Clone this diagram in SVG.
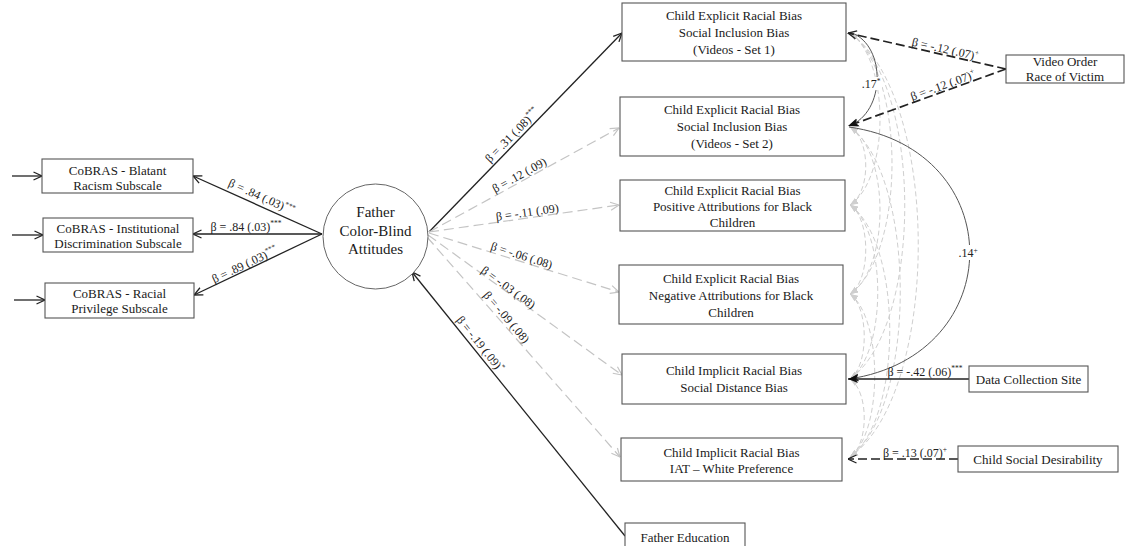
<svg xmlns="http://www.w3.org/2000/svg" width="1143" height="546" viewBox="0 0 1143 546">
<style>
.box{fill:#fff;stroke:#555;stroke-width:1.1}
.t{font-family:"Liberation Serif","Times New Roman",serif;font-size:13px;fill:#1a1a1a;text-anchor:middle}
.tc{font-family:"Liberation Serif","Times New Roman",serif;font-size:15px;fill:#1a1a1a;text-anchor:middle}
.lb{font-family:"Liberation Serif","Times New Roman",serif;font-size:12px;fill:#222;text-anchor:middle}
.sup{font-size:7.5px}
.solid{fill:none;stroke:#222;stroke-width:1.3}
.gdash{fill:none;stroke:#c4c4c4;stroke-width:1.2;stroke-dasharray:10 5}
.bdash{fill:none;stroke:#222;stroke-width:1.7;stroke-dasharray:9 4}
.corr{fill:none;stroke:#555;stroke-width:1}
.gcorr{fill:none;stroke:#cfcfcf;stroke-width:1;stroke-dasharray:5 3}
</style>
<defs>
<marker id="ao" viewBox="0 0 10 10" refX="9.5" refY="5" markerWidth="10" markerHeight="10" markerUnits="userSpaceOnUse" orient="auto-start-reverse">
<path d="M1,1 L9.5,5 L1,9" fill="none" stroke="#222" stroke-width="1.3"/>
</marker>
<marker id="ag" viewBox="0 0 10 10" refX="9.5" refY="5" markerWidth="10" markerHeight="10" markerUnits="userSpaceOnUse" orient="auto-start-reverse">
<path d="M1,1 L9.5,5 L1,9" fill="none" stroke="#c4c4c4" stroke-width="1.2"/>
</marker>
<marker id="af" viewBox="0 0 10 10" refX="10" refY="5" markerWidth="10" markerHeight="10" markerUnits="userSpaceOnUse" orient="auto-start-reverse">
<path d="M0,1 L10,5 L0,9 L2.5,5 Z" fill="#111"/>
</marker>
<marker id="agf" viewBox="0 0 10 10" refX="10" refY="5" markerWidth="8" markerHeight="8" markerUnits="userSpaceOnUse" orient="auto-start-reverse">
<path d="M0,1 L10,5 L0,9 Z" fill="#cfcfcf"/>
</marker>
</defs>

<g id="connectors">
<line class="solid" x1="12" y1="176" x2="42" y2="176" marker-end="url(#ao)"/>
<line class="solid" x1="12" y1="235" x2="43" y2="235" marker-end="url(#ao)"/>
<line class="solid" x1="14" y1="300" x2="45" y2="300" marker-end="url(#ao)"/>
<line class="solid" x1="322" y1="234" x2="193" y2="176" marker-end="url(#ao)"/>
<line class="solid" x1="322" y1="234" x2="193" y2="234" marker-end="url(#ao)"/>
<line class="solid" x1="322" y1="234" x2="194" y2="295" marker-end="url(#ao)"/>
<line class="solid" x1="429" y1="232" x2="622" y2="33" marker-end="url(#ao)"/>
<line class="gdash" x1="429" y1="232" x2="619" y2="128" marker-end="url(#ag)"/>
<line class="gdash" x1="429" y1="232" x2="619" y2="205" marker-end="url(#ag)"/>
<line class="gdash" x1="429" y1="233" x2="619" y2="292" marker-end="url(#ag)"/>
<line class="gdash" x1="428" y1="235" x2="622" y2="375" marker-end="url(#ag)"/>
<line class="gdash" x1="427" y1="237" x2="620" y2="457" marker-end="url(#ag)"/>
<line class="solid" x1="625" y1="536" x2="412" y2="272" marker-end="url(#ao)"/>
<path class="gcorr" d="M850,33 C890,59 890,179 850,205" marker-start="url(#agf)" marker-end="url(#agf)"/>
<path class="gcorr" d="M850,33 C906,72 906,255 850,294" marker-start="url(#agf)" marker-end="url(#agf)"/>
<path class="gcorr" d="M850,33 C923,85 923,327 850,379" marker-start="url(#agf)" marker-end="url(#agf)"/>
<path class="gcorr" d="M850,33 C941,97 941,393 850,457" marker-start="url(#agf)" marker-end="url(#agf)"/>
<path class="gcorr" d="M850,127 C871,139 871,193 850,205" marker-start="url(#agf)" marker-end="url(#agf)"/>
<path class="gcorr" d="M850,127 C890,152 890,269 850,294" marker-start="url(#agf)" marker-end="url(#agf)"/>
<path class="gcorr" d="M850,127 C917,176 917,408 850,457" marker-start="url(#agf)" marker-end="url(#agf)"/>
<path class="gcorr" d="M850,205 C871,218 871,281 850,294" marker-start="url(#agf)" marker-end="url(#agf)"/>
<path class="gcorr" d="M850,205 C887,231 887,353 850,379" marker-start="url(#agf)" marker-end="url(#agf)"/>
<path class="gcorr" d="M850,205 C903,243 903,419 850,457" marker-start="url(#agf)" marker-end="url(#agf)"/>
<path class="gcorr" d="M850,294 C869,307 869,366 850,379" marker-start="url(#agf)" marker-end="url(#agf)"/>
<path class="gcorr" d="M850,294 C883,318 883,433 850,457" marker-start="url(#agf)" marker-end="url(#agf)"/>
<path class="gcorr" d="M850,379 C869,391 869,445 850,457" marker-start="url(#agf)" marker-end="url(#agf)"/>
<path class="corr" d="M852,33 C886,46 886,112 849,126" marker-end="url(#af)"/>
<path class="corr" d="M849,127 C1010,150 1010,355 849,379" marker-end="url(#af)"/>
<line class="bdash" x1="1006" y1="69" x2="848" y2="33" marker-end="url(#ao)"/>
<line class="bdash" x1="1006" y1="69" x2="848" y2="126" marker-end="url(#af)"/>
<line class="solid" x1="969" y1="379" x2="848" y2="379" marker-end="url(#af)"/>
<line class="bdash" x1="958" y1="459" x2="848" y2="459" stroke-width="1.4" marker-end="url(#ao)"/>
</g>

<g id="labels">
<text class="lb" transform="translate(258,205) rotate(24.2)" y="-5">β = .84 (.03)<tspan class="sup" dy="-5">***</tspan></text>
<text class="lb" x="246" y="231">β = .84 (.03)<tspan class="sup" dy="-5">***</tspan></text>
<text class="lb" transform="translate(247,269.5) rotate(-25.3)" y="-1.5">β = .89 (.03)<tspan class="sup" dy="-5">***</tspan></text>
<text class="lb" transform="translate(517,140) rotate(-45.7)" y="-3">β = .31 (.08)<tspan class="sup" dy="-5">***</tspan></text>
<text class="lb" transform="translate(522,180) rotate(-28.8)" y="-1.5">β = .12 (.09)</text>
<text class="lb" transform="translate(528,217.7) rotate(-8.1)" y="-1.5">β = -.11 (.09)</text>
<text class="lb" transform="translate(520,260.7) rotate(17.7)" y="-1.5">β = -.06 (.08)</text>
<text class="lb" transform="translate(506,290.7) rotate(36)" y="0">β = -.03 (.08)</text>
<text class="lb" transform="translate(502,321) rotate(49.6)" y="-2">β = -.09 (.08)</text>
<text class="lb" transform="translate(474,349) rotate(51.3)" y="-4">β = -.19 (.09)<tspan class="sup" dy="-5">*</tspan></text>
<text class="lb" transform="translate(944,54.9) rotate(12.8)" y="-2">β = -.12 (.07)<tspan class="sup" dy="-5">+</tspan></text>
<text class="lb" transform="translate(945,91) rotate(-19.8)" y="-2">β = -.12 (.07)<tspan class="sup" dy="-5">+</tspan></text>
<text class="lb" x="925" y="376">β = -.42 (.06)<tspan class="sup" dy="-5">***</tspan></text>
<text class="lb" x="915" y="457">β = .13 (.07)<tspan class="sup" dy="-5">+</tspan></text>
<rect x="862" y="77" width="20" height="13" fill="#fff"/>
<text class="lb" x="871" y="88" font-size="11">.17<tspan class="sup" dy="-4">*</tspan></text>
<rect x="957" y="245" width="22" height="15" fill="#fff"/>
<text class="lb" x="968" y="257">.14<tspan class="sup" dy="-4">+</tspan></text>
</g>

<g id="n-blatant"><rect class="box" x="42" y="159" width="151" height="34"/><text class="t" x="117.5" y="174.5">CoBRAS - Blatant</text><text class="t" x="117.5" y="189.5">Racism Subscale</text></g>
<g id="n-institutional"><rect class="box" x="43" y="218" width="150" height="34"/><text class="t" x="118" y="232.5">CoBRAS - Institutional</text><text class="t" x="118" y="247.5">Discrimination Subscale</text></g>
<g id="n-privilege"><rect class="box" x="45" y="283" width="149" height="35"/><text class="t" x="119.5" y="297.5">CoBRAS - Racial</text><text class="t" x="119.5" y="312.5">Privilege Subscale</text></g>

<g id="n-father"><circle cx="375.5" cy="236.5" r="52.5" fill="#fff" stroke="#666" stroke-width="1"/><text class="tc" x="375.5" y="217">Father</text><text class="tc" x="375.5" y="235.5">Color-Blind</text><text class="tc" x="375.5" y="254">Attitudes</text></g>

<g id="n-set1"><rect class="box" x="622" y="3" width="224" height="58"/><text class="t" x="734" y="19.5">Child Explicit Racial Bias</text><text class="t" x="734" y="36.5">Social Inclusion Bias</text><text class="t" x="734" y="53.5">(Videos - Set 1)</text></g>
<g id="n-set2"><rect class="box" x="620" y="97" width="224" height="59"/><text class="t" x="732" y="114">Child Explicit Racial Bias</text><text class="t" x="732" y="131">Social Inclusion Bias</text><text class="t" x="732" y="148">(Videos - Set 2)</text></g>
<g id="n-positive"><rect class="box" x="620" y="180" width="225" height="51"/><text class="t" x="732.5" y="194.5">Child Explicit Racial Bias</text><text class="t" x="732.5" y="210.5">Positive Attributions for Black</text><text class="t" x="732.5" y="226.5">Children</text></g>
<g id="n-negative"><rect class="box" x="619" y="265" width="224" height="59"/><text class="t" x="731" y="282.5">Child Explicit Racial Bias</text><text class="t" x="731" y="299.5">Negative Attributions for Black</text><text class="t" x="731" y="316.5">Children</text></g>
<g id="n-distance"><rect class="box" x="622" y="354" width="224" height="50"/><text class="t" x="734" y="374.5">Child Implicit Racial Bias</text><text class="t" x="734" y="391.5">Social Distance Bias</text></g>
<g id="n-iat"><rect class="box" x="621" y="438" width="221" height="43"/><text class="t" x="731.5" y="456.5">Child Implicit Racial Bias</text><text class="t" x="731.5" y="472.5">IAT – White Preference</text></g>

<g id="n-education"><rect class="box" x="625" y="523" width="120" height="30"/><text class="t" x="685" y="541.5">Father Education</text></g>
<g id="n-video"><rect class="box" x="1006" y="55" width="118" height="28"/><text class="t" x="1065" y="65.5">Video Order</text><text class="t" x="1065" y="81">Race of Victim</text></g>
<g id="n-site"><rect class="box" x="969" y="366" width="119" height="26"/><text class="t" x="1028.5" y="383.5">Data Collection Site</text></g>
<g id="n-desirability"><rect class="box" x="958" y="446" width="160" height="26"/><text class="t" x="1038" y="463.5">Child Social Desirability</text></g>
</svg>
